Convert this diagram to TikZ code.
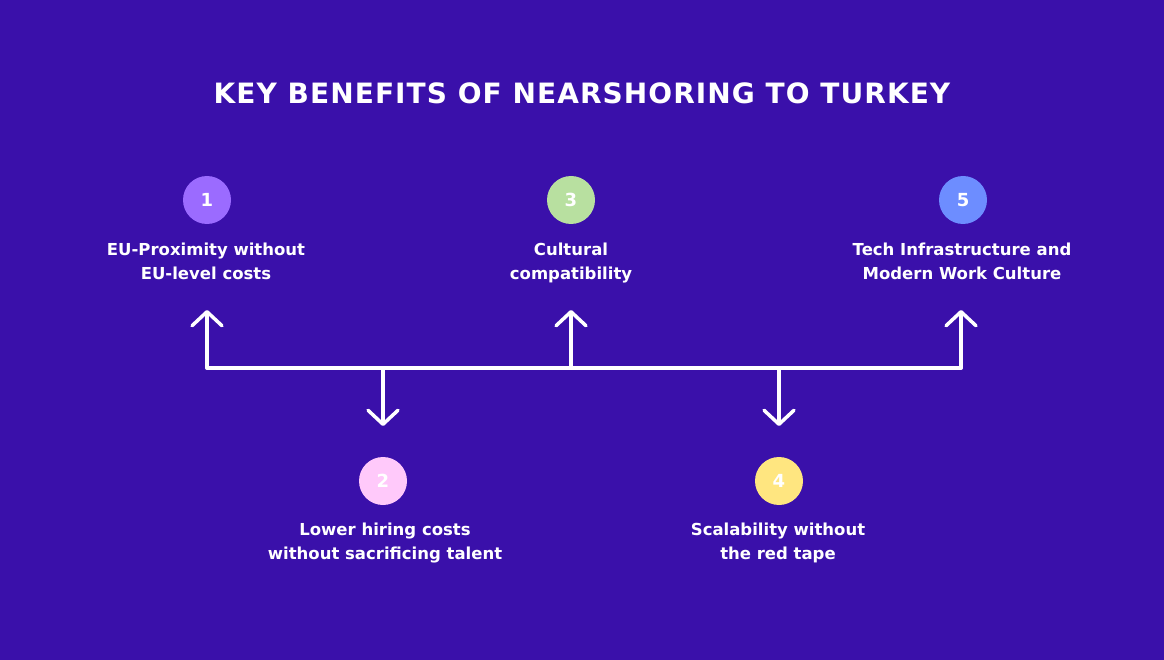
\documentclass[tikz,border=0pt]{standalone}
\usepackage{fontspec}
\setmainfont{DejaVu Sans}
\usetikzlibrary{arrows.meta}
\definecolor{bg}{HTML}{3A10AA}
\definecolor{cone}{HTML}{9B6BFF}
\definecolor{ctwo}{HTML}{FFC9FA}
\definecolor{cthree}{HTML}{B8E0A0}
\definecolor{cfour}{HTML}{FFE680}
\definecolor{cfive}{HTML}{6D8DFF}
\newcommand{\ls}[1]{\strut#1}
\begin{document}
\begin{tikzpicture}[x=1pt,y=-1pt,
  num/.style={circle,minimum size=48pt,inner sep=0pt,text=white,font=\fontsize{18}{18}\selectfont\bfseries},
  lbl/.style={text=white,align=center,font=\fontsize{16.5}{24}\selectfont\bfseries,inner sep=0pt},
  conn/.style={draw=white,line width=3.5pt,line cap=round,line join=round},
  tip/.style={-{Straight Barb[length=14pt,width=30pt,line width=3.5pt,round]}}]
\fill[bg] (0,0) rectangle (1164,660);
\useasboundingbox (0,0) rectangle (1164,660);
\node[text=white,font=\fontsize{28}{28}\selectfont\bfseries\addfontfeature{LetterSpace=3.8}] (title) at (582,93) {KEY BENEFITS OF NEARSHORING TO TURKEY};
\node[num,fill=cone] (n1) at (207,200) {1};
\node[num,fill=cthree] (n3) at (571,200) {3};
\node[num,fill=cfive] (n5) at (963,200) {5};
\node[num,fill=ctwo] (n2) at (383,481) {2};
\node[num,fill=cfour] (n4) at (779,481) {4};
\node[lbl] (t1) at (206,263) {\ls{EU-Proximity without}\\\ls{EU-level costs}};
\node[lbl] (t3) at (571,263) {\ls{Cultural}\\\ls{compatibility}};
\node[lbl] (t5) at (962,263) {\ls{Tech Infrastructure and}\\\ls{Modern Work Culture}};
\node[lbl] (t2) at (385,543) {\ls{Lower hiring costs}\\\ls{without sacrificing talent}};
\node[lbl] (t4) at (778,543) {\ls{Scalability without}\\\ls{the red tape}};
\coordinate (bl) at (207,368);
\coordinate (br) at (961,368);
\coordinate (b3) at (571,368);
\coordinate (b2) at (383,368);
\coordinate (b4) at (779,368);
\coordinate (u1) at (207,310);
\coordinate (u3) at (571,310);
\coordinate (u5) at (961,310);
\coordinate (d2) at (383,426);
\coordinate (d4) at (779,426);
\draw[conn] (bl) -- (br);
\draw[conn,tip] (bl) -- (u1);
\draw[conn,tip] (b3) -- (u3);
\draw[conn,tip] (br) -- (u5);
\draw[conn,tip] (b2) -- (d2);
\draw[conn,tip] (b4) -- (d4);
\end{tikzpicture}
\end{document}
